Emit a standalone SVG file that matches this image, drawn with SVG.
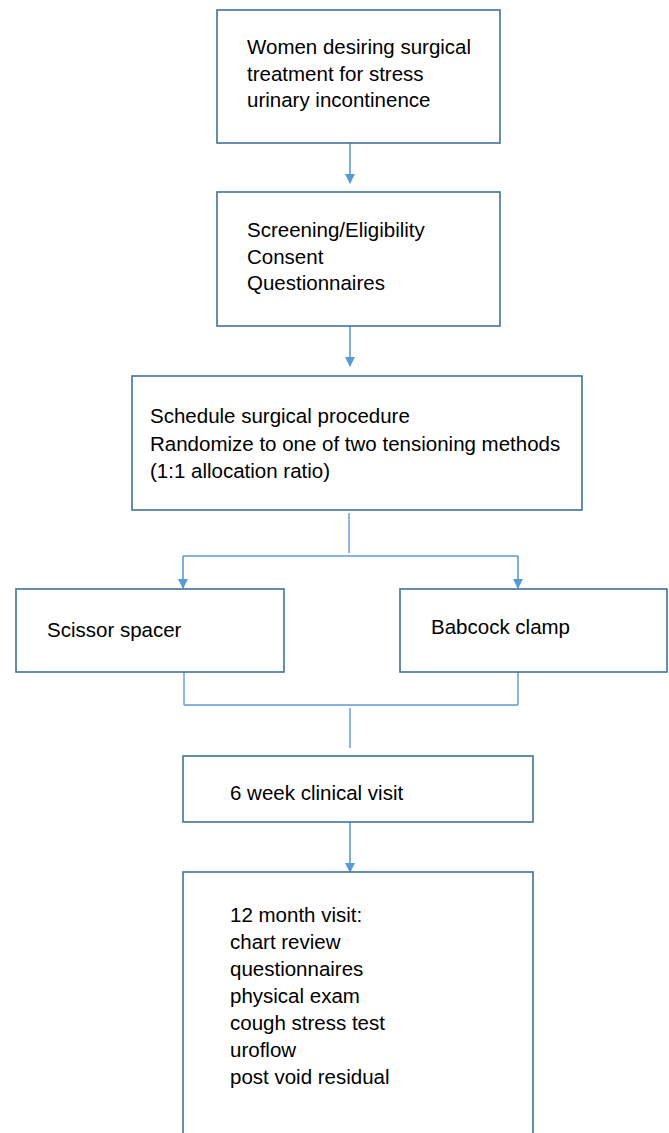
<svg xmlns="http://www.w3.org/2000/svg" width="669" height="1133" viewBox="0 0 669 1133">
<style>
.box{fill:#fff;stroke:#41719c;stroke-width:1.6}
.t{font-family:"Liberation Sans",Arial,sans-serif;font-size:20.5px;fill:#000}
.c{fill:none;stroke:#5b9bd5;stroke-width:1.4}
.ca{fill:none;stroke:#5b9bd5;stroke-width:1.6;marker-end:url(#ah)}
</style>
<defs>
<marker id="ah" markerWidth="12" markerHeight="12" refX="9" refY="5" orient="auto" markerUnits="userSpaceOnUse">
<path d="M0,0 L10,5 L0,10 Z" fill="#5b9bd5"/>
</marker>
</defs>
<rect width="669" height="1133" fill="#fff"/>
<g id="connectors">
<line class="ca" x1="350" y1="143" x2="350" y2="183"/>
<line class="ca" x1="350" y1="322" x2="350" y2="366"/>
<line class="c" x1="349" y1="513" x2="349" y2="553"/>
<line class="c" x1="183" y1="556" x2="518" y2="556"/>
<line class="ca" x1="183" y1="556" x2="183" y2="588"/>
<line class="ca" x1="518" y1="556" x2="518" y2="588"/>
<line class="c" x1="184" y1="672" x2="184" y2="705"/>
<line class="c" x1="518" y1="672" x2="518" y2="705"/>
<line class="c" x1="184" y1="705" x2="518" y2="705"/>
<line class="c" x1="350" y1="708" x2="350" y2="748"/>
<line class="ca" x1="350" y1="822" x2="350" y2="872"/>
</g>
<g id="n1">
<rect class="box" x="217" y="10" width="283" height="133"/>
<text class="t" x="247" y="54">Women desiring surgical</text>
<text class="t" x="247" y="81">treatment for stress</text>
<text class="t" x="247" y="107">urinary incontinence</text>
</g>
<g id="n2">
<rect class="box" x="217" y="192" width="283" height="134"/>
<text class="t" x="247" y="237">Screening/Eligibility</text>
<text class="t" x="247" y="264">Consent</text>
<text class="t" x="247" y="290">Questionnaires</text>
</g>
<g id="n3">
<rect class="box" x="132" y="376" width="450" height="134"/>
<text class="t" x="150" y="423">Schedule surgical procedure</text>
<text class="t" x="150" y="451">Randomize to one of two tensioning methods</text>
<text class="t" x="150" y="478">(1:1 allocation ratio)</text>
</g>
<g id="n4">
<rect class="box" x="16" y="589" width="268" height="83"/>
<text class="t" x="47" y="637">Scissor spacer</text>
</g>
<g id="n5">
<rect class="box" x="400" y="589" width="267" height="83"/>
<text class="t" x="431" y="634">Babcock clamp</text>
</g>
<g id="n6">
<rect class="box" x="183" y="756" width="350" height="66"/>
<text class="t" x="230" y="800">6 week clinical visit</text>
</g>
<g id="n7">
<rect class="box" x="183" y="872" width="350" height="280"/>
<text class="t" x="230" y="922">12 month visit:</text>
<text class="t" x="230" y="949">chart review</text>
<text class="t" x="230" y="976">questionnaires</text>
<text class="t" x="230" y="1003">physical exam</text>
<text class="t" x="230" y="1030">cough stress test</text>
<text class="t" x="230" y="1057">uroflow</text>
<text class="t" x="230" y="1084">post void residual</text>
</g>
</svg>
